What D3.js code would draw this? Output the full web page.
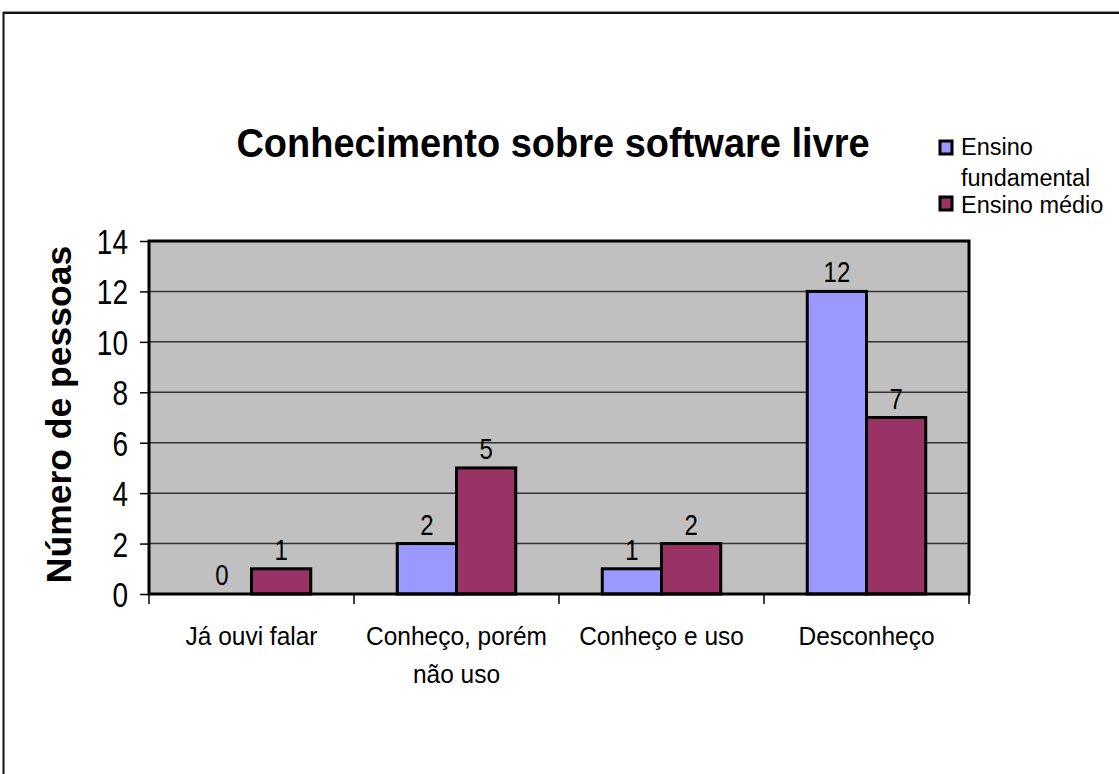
<!DOCTYPE html>
<html>
<head>
<meta charset="utf-8">
<script src="https://cdn.jsdelivr.net/npm/d3@7"></script>
<style>
  html, body { margin: 0; padding: 0; background: #fff; }
  svg { display: block; font-family: "Liberation Sans", Arial, sans-serif; }
</style>
</head>
<body>
<svg id="chart" width="1119" height="774"></svg>
<script>
const categories = [["Já ouvi falar"], ["Conheço, porém", "não uso"], ["Conheço e uso"], ["Desconheço"]];
const seriesNames = ["Ensino fundamental", "Ensino médio"];
const fundamental = [0, 2, 1, 12];
const medio = [1, 5, 2, 7];
const yTicks = [0, 2, 4, 6, 8, 10, 12, 14];
const colors = ["#9999FF", "#993366"];

const svg = d3.select("#chart");

// helper: text with slight vertical stretch
function stext(g, x, y, sy) {
  return g.append("text").attr("transform", `translate(${x},${y}) scale(1,${sy})`);
}

// outer frame
svg.append("line").attr("x1", 3).attr("x2", 1119).attr("y1", 11.5).attr("y2", 11.5).attr("stroke", "#999").attr("stroke-width", 1);
svg.append("line").attr("x1", 3).attr("x2", 1119).attr("y1", 13).attr("y2", 13).attr("stroke", "#111").attr("stroke-width", 2);
svg.append("line").attr("x1", 3.5).attr("x2", 3.5).attr("y1", 12).attr("y2", 774).attr("stroke", "#111").attr("stroke-width", 2);

const plot = { left: 149, right: 969, top: 241, bottom: 594 };

const x0 = d3.scaleBand().domain(d3.range(categories.length)).range([plot.left, plot.right]).paddingInner(0).paddingOuter(0);
const x1 = d3.scaleBand().domain([0, 1]).range([0, x0.bandwidth()]).paddingOuter(0.73).paddingInner(0);
const y = d3.scaleLinear().domain([0, 14]).range([plot.bottom, plot.top]);

// plot background
svg.append("rect").attr("x", plot.left).attr("y", plot.top)
  .attr("width", plot.right - plot.left).attr("height", plot.bottom - plot.top)
  .attr("fill", "#C0C0C0");

// gridlines
svg.append("g").selectAll("line").data(yTicks.filter(d => d > 0 && d < 14)).join("line")
  .attr("x1", plot.left).attr("x2", plot.right)
  .attr("y1", d => y(d)).attr("y2", d => y(d))
  .attr("stroke", "#333").attr("stroke-width", 1.5);

// bars
const data = categories.map((c, i) => [fundamental[i], medio[i]]);
const groups = svg.append("g").selectAll("g").data(data).join("g")
  .attr("transform", (d, i) => `translate(${x0(i)},0)`);
groups.selectAll("rect").data(d => d.map((v, s) => ({ v, s }))).join("rect")
  .filter(d => d.v > 0)
  .attr("x", d => x1(d.s))
  .attr("width", x1.bandwidth())
  .attr("y", d => y(d.v))
  .attr("height", d => y(0) - y(d.v))
  .attr("fill", d => colors[d.s])
  .attr("stroke", "#000").attr("stroke-width", 3);

// value labels
groups.selectAll("text").data(d => d.map((v, s) => ({ v, s }))).join("text")
  .attr("transform", d => `translate(${x1(d.s) + x1.bandwidth() / 2},${y(d.v) - 9}) scale(1,1.2)`)
  .attr("text-anchor", "middle")
  .attr("font-size", 24)
  .attr("fill", "#000")
  .text(d => d.v);

// plot border
svg.append("rect").attr("x", plot.left).attr("y", plot.top)
  .attr("width", plot.right - plot.left).attr("height", plot.bottom - plot.top)
  .attr("fill", "none").attr("stroke", "#000").attr("stroke-width", 3);

// y axis
const yAxis = d3.axisLeft(y).tickValues(yTicks).tickSize(9).tickPadding(12).tickFormat(d3.format("d"));
const gy = svg.append("g").attr("transform", `translate(${plot.left},0)`).call(yAxis);
gy.select(".domain").remove();
gy.selectAll(".tick line").attr("stroke", "#000").attr("stroke-width", 1.5);
gy.selectAll(".tick text")
  .attr("font-size", 28).attr("fill", "#000")
  .attr("font-family", "'Liberation Sans', Arial, sans-serif")
  .attr("dy", null)
  .attr("transform", "translate(0,12.5) scale(1,1.25)")
  .attr("y", 0);

// x axis ticks at band boundaries
const xTickPos = d3.range(categories.length + 1).map(i => plot.left + i * x0.bandwidth());
svg.append("g").selectAll("line").data(xTickPos).join("line")
  .attr("x1", d => d).attr("x2", d => d)
  .attr("y1", plot.bottom).attr("y2", plot.bottom + 10)
  .attr("stroke", "#000").attr("stroke-width", 1.5);

// category labels
const catG = svg.append("g");
categories.forEach((lines, i) => {
  lines.forEach((t, j) => {
    stext(catG, x0(i) + x0.bandwidth() / 2, 645 + j * 38, 1.08)
      .attr("text-anchor", "middle").attr("font-size", 24.5).attr("fill", "#000").text(t);
  });
});

// title
stext(svg, 553, 157, 1.08)
  .attr("text-anchor", "middle").attr("font-size", 38).attr("font-weight", "bold")
  .attr("fill", "#000")
  .text("Conhecimento sobre software livre");

// y axis title
svg.append("text")
  .attr("transform", `translate(71,${(plot.top + plot.bottom) / 2 - 3}) rotate(-90)`)
  .attr("text-anchor", "middle").attr("font-size", 35.5).attr("font-weight", "bold")
  .attr("fill", "#000")
  .text("Número de pessoas");

// legend
const legend = svg.append("g");
const legItems = [
  { sx: 940, sy: 141, lines: [{ t: "Ensino", x: 961, y: 155 }, { t: "fundamental", x: 961, y: 186 }] },
  { sx: 940, sy: 197, lines: [{ t: "Ensino médio", x: 961, y: 213 }] }
];
legItems.forEach((it, i) => {
  legend.append("rect").attr("x", it.sx).attr("y", it.sy).attr("width", 12).attr("height", 13)
    .attr("fill", colors[i]).attr("stroke", "#000").attr("stroke-width", 3);
  it.lines.forEach(l => {
    legend.append("text").attr("x", l.x).attr("y", l.y).attr("font-size", 23.5).attr("fill", "#000").text(l.t);
  });
});
</script>
</body>
</html>
